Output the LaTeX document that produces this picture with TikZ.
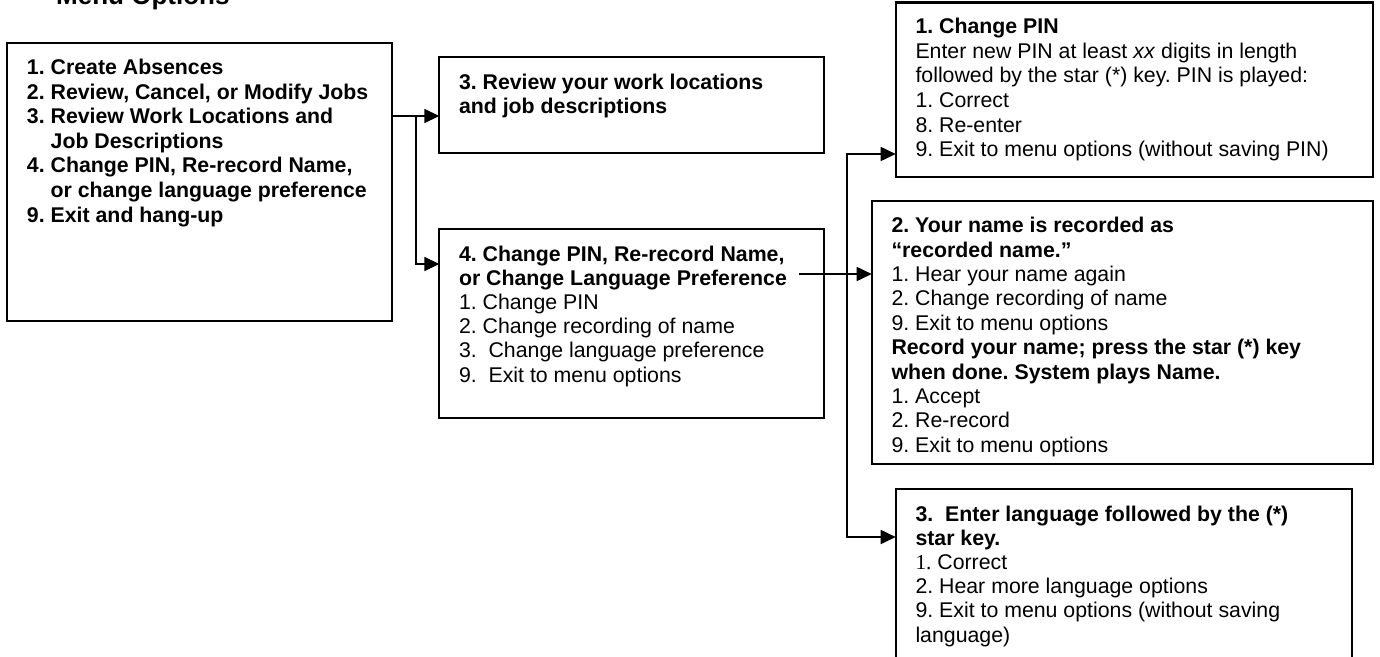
\documentclass[tikz,border=0pt]{standalone}
\usepackage{fontspec}
\setmainfont{Liberation Sans}
\newfontfamily\serifnum{Liberation Serif}
\usetikzlibrary{arrows.meta}
\frenchspacing
\newcommand{\lns}[2]{\vtop{\baselineskip=#1\lineskiplimit=-1000pt\lineskip=0pt\halign{##\hfil\cr#2\crcr}}}
\newcommand{\fsz}{\fontsize{21.3pt}{24.5pt}\selectfont\frenchspacing}
\begin{document}
\begin{tikzpicture}[x=1pt,y=-1pt,
  box/.style={draw=black,line width=2.2pt,rectangle,inner sep=0pt,outer sep=0pt,anchor=north west},
  conn/.style={draw=black,line width=1.7pt},
  txt/.style={anchor=base west,inner sep=0pt,outer sep=0pt,font=\fsz},
  >={Triangle[length=15pt,width=14pt]}]
\path[use as bounding box,fill=white] (0,0) rectangle (1380,656);
\clip (0,0) rectangle (1380,656);

% title
\node[anchor=base west,inner sep=0pt,font=\bfseries\fontsize{26pt}{30pt}\selectfont] (title) at (56,4) {Menu Options};

% boxes
\node[box,minimum width=385pt,minimum height=277.7pt] (b1) at (7.3,43.3) {};
\node[box,minimum width=385pt,minimum height=96pt] (b2) at (439.3,57.3) {};
\node[box,minimum width=385pt,minimum height=188.4pt] (b4) at (439.3,229.3) {};
\node[box,minimum width=477.3pt,minimum height=174.5pt] (b3) at (895.7,2.5) {};
\node[box,minimum width=501.3pt,minimum height=263.3pt] (b5) at (871.7,201) {};
\node[box,minimum width=456pt,minimum height=190pt] (b6) at (895.7,489.3) {};

% texts
\node[txt] (t1) at (27,74.4) {\lns{24.6pt}{%
\bfseries 1. Create Absences\cr
\bfseries 2. Review, Cancel, or Modify Jobs\cr
\bfseries 3. Review Work Locations and\cr
\bfseries \hphantom{3.\ }Job Descriptions\cr
\bfseries 4. Change PIN, Re-record Name,\cr
\bfseries \hphantom{4.\ }or change language preference\cr
\bfseries 9. Exit and hang-up}};

\node[txt] (t2) at (459,89.3) {\lns{24pt}{%
\bfseries 3. Review your work locations\cr
\bfseries and job descriptions}};

\node[txt] (t4) at (459,261) {\lns{24.2pt}{%
\bfseries 4. Change PIN, Re-record Name,\cr
\bfseries or Change Language Preference\cr
1. Change PIN\cr
2. Change recording of name\cr
3.\ \ Change language preference\cr
9.\ \ Exit to menu options}};

\node[txt] (t3) at (915.5,33.6) {\lns{24.6pt}{%
\bfseries 1. Change PIN\cr
Enter new PIN at least \textit{xx} digits in length\cr
followed by the star (*) key. PIN is played:\cr
1. Correct\cr
8. Re-enter\cr
9. Exit to menu options (without saving PIN)}};

\node[txt] (t5) at (891.5,232.6) {\lns{24.4pt}{%
\bfseries 2. Your name is recorded as\cr
\bfseries “recorded name.”\cr
1. Hear your name again\cr
2. Change recording of name\cr
9. Exit to menu options\cr
\bfseries Record your name; press the star (*) key\cr
\bfseries when done. System plays Name.\cr
1. Accept\cr
2. Re-record\cr
9. Exit to menu options}};

\node[txt] (t6) at (915.5,521) {\lns{24.2pt}{%
\bfseries 3.\ \ Enter language followed by the (*)\cr
\bfseries star key.\cr
{\serifnum 1.} Correct\cr
2. Hear more language options\cr
9. Exit to menu options (without saving\cr
language)}};

% connectors
\coordinate (j1) at (415.7,116);
\coordinate (j2) at (415.7,264);
\draw[conn] (b1.east |- j1) -- (j1);
\draw[conn,<->] (b2.west |- j1) -- (j1) -- (j2) -- (b4.west |- j2);

\coordinate (s4) at (799,274);
\draw[conn,->] (s4) -- (b5.west |- s4);

\coordinate (v1) at (847.3,154);
\coordinate (v2) at (847.3,537);
\draw[conn,<->] (b3.west |- v1) -- (v1) -- (v2) -- (b6.west |- v2);
\end{tikzpicture}
\end{document}
